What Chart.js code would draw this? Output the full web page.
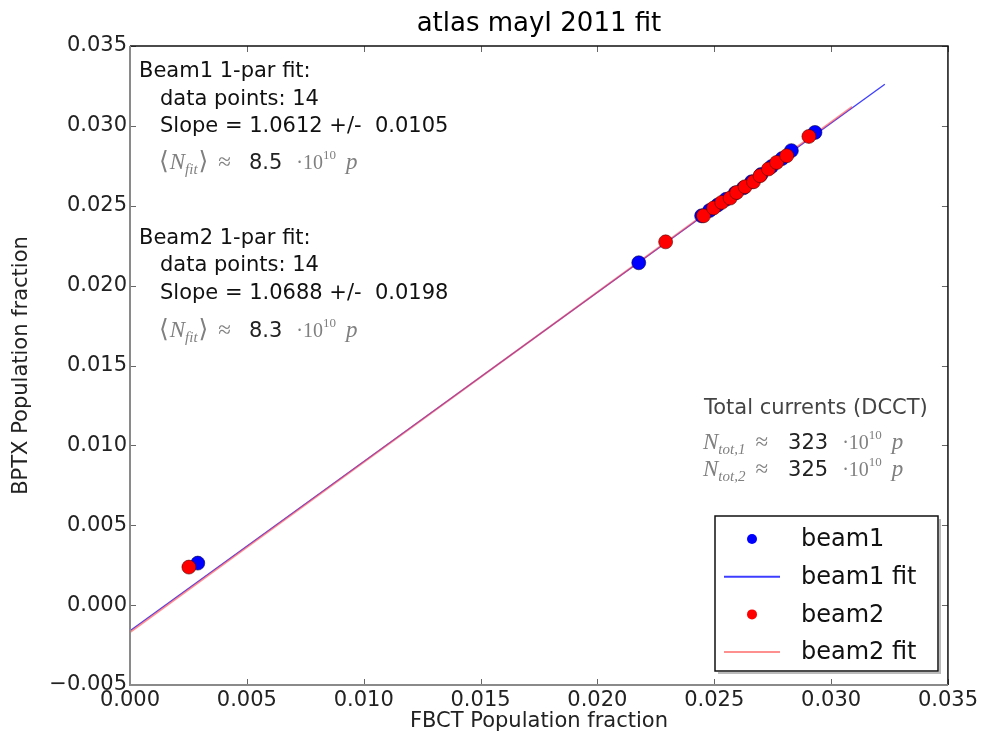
<!DOCTYPE html>
<html lang="en">
<head>
<meta charset="UTF-8" />
<title>atlas mayI 2011 fit</title>
<script src="https://cdn.jsdelivr.net/npm/chart.js@4.4.1/dist/chart.umd.min.js"></script>
<style>
  html, body { margin: 0; padding: 0; background: #fff; }
</style>
</head>
<body>
<canvas id="grafico" width="981" height="734"></canvas>

<script>
// beam1 points (FBCT fraction, BPTX fraction)
const beam1X = [0.0029, 0.02177, 0.02446, 0.02480, 0.02515, 0.02550, 0.02590, 0.02625, 0.02660, 0.02700, 0.02745, 0.02790, 0.02830, 0.02931];
const beam1Y = [0.00263, 0.02143, 0.02437, 0.02470, 0.02505, 0.02540, 0.02580, 0.02612, 0.02650, 0.02695, 0.02745, 0.02795, 0.02845, 0.02959];

// beam2 points
const beam2X = [0.00252, 0.02292, 0.02454, 0.02497, 0.02532, 0.02568, 0.02596, 0.02632, 0.02668, 0.02696, 0.02732, 0.02767, 0.02810, 0.02905];
const beam2Y = [0.00238, 0.02274, 0.02437, 0.02486, 0.02521, 0.02548, 0.02583, 0.02619, 0.02650, 0.02688, 0.02730, 0.02771, 0.02813, 0.02934];

// fit lines, end points
const fit1X = [0.0, 0.0323];
const fit1Y = [-0.0016, 0.0326];
const fit2X = [0.0, 0.0309];
const fit2Y = [-0.0017, 0.0312];

const xTicks = [0.000, 0.005, 0.010, 0.015, 0.020, 0.025, 0.030, 0.035];
const yTicks = [-0.005, 0.000, 0.005, 0.010, 0.015, 0.020, 0.025, 0.030, 0.035];

const pares = (xs, ys) => xs.map((x, i) => ({ x: x, y: ys[i] }));
const fmt = v => (v < -1e-9 ? '\u2212' : '') + Math.abs(v).toFixed(3);

const SANS = "'DejaVu Sans', sans-serif";
const SERIF = "'Liberation Serif', 'DejaVu Serif', serif";
const CINZA = '#808080';

// draws a row of text pieces one after the other
function linha(ctx, x, y, partes) {
  ctx.textBaseline = 'alphabetic';
  ctx.textAlign = 'left';
  for (const p of partes) {
    ctx.font = p.f;
    ctx.fillStyle = p.c;
    ctx.fillText(p.t, x, y + (p.dy || 0));
    x += ctx.measureText(p.t).width + (p.gap || 0);
  }
}

function nFit(ctx, x, y, valor) {
  linha(ctx, x, y, [
    { t: '\u27e8', f: '25px ' + SERIF, c: CINZA, gap: 1 },
    { t: 'N', f: 'italic 23px ' + SERIF, c: CINZA },
    { t: 'fit', f: 'italic 15px ' + SERIF, c: CINZA, dy: 5, gap: 1 },
    { t: '\u27e9', f: '25px ' + SERIF, c: CINZA, gap: 10 },
    { t: '\u2248', f: '23px ' + SERIF, c: CINZA, gap: 18 },
    { t: valor, f: '21px ' + SANS, c: '#222', gap: 14 },
    { t: '\u00b710', f: '20px ' + SERIF, c: CINZA },
    { t: '10', f: '13px ' + SERIF, c: CINZA, dy: -10, gap: 10 },
    { t: 'p', f: 'italic 23px ' + SERIF, c: CINZA }
  ]);
}

function nTot(ctx, x, y, idx, valor) {
  linha(ctx, x, y, [
    { t: 'N', f: 'italic 23px ' + SERIF, c: CINZA },
    { t: 'tot,' + idx, f: 'italic 15px ' + SERIF, c: CINZA, dy: 5, gap: 10 },
    { t: '\u2248', f: '23px ' + SERIF, c: CINZA, gap: 20 },
    { t: valor, f: '21px ' + SANS, c: '#222', gap: 14 },
    { t: '\u00b710', f: '20px ' + SERIF, c: CINZA },
    { t: '10', f: '13px ' + SERIF, c: CINZA, dy: -10, gap: 10 },
    { t: 'p', f: 'italic 23px ' + SERIF, c: CINZA }
  ]);
}

const moldura = {
  id: 'moldura',
  afterDatasetsDraw(chart) {
    const ctx = chart.ctx;
    const a = chart.chartArea;
    const sx = chart.scales.x, sy = chart.scales.y;
    ctx.save();
    // inward tick marks on all four sides
    ctx.strokeStyle = '#666';
    ctx.lineWidth = 1;
    ctx.beginPath();
    sx.ticks.forEach((t, i) => {
      const px = Math.round(sx.getPixelForTick(i)) + 0.5;
      ctx.moveTo(px, a.bottom); ctx.lineTo(px, a.bottom - 6);
      ctx.moveTo(px, a.top); ctx.lineTo(px, a.top + 6);
    });
    sy.ticks.forEach((t, i) => {
      const py = Math.round(sy.getPixelForTick(i)) + 0.5;
      ctx.moveTo(a.left, py); ctx.lineTo(a.left + 6, py);
      ctx.moveTo(a.right, py); ctx.lineTo(a.right - 6, py);
    });
    ctx.stroke();
    // spines
    ctx.lineWidth = 1.5;
    ctx.strokeStyle = '#111';
    ctx.beginPath();
    ctx.moveTo(a.left, a.top); ctx.lineTo(a.right, a.top); ctx.lineTo(a.right, a.bottom);
    ctx.stroke();
    ctx.strokeStyle = '#8a8a8a';
    ctx.lineWidth = 2;
    ctx.beginPath();
    ctx.moveTo(a.left, a.top); ctx.lineTo(a.left, a.bottom); ctx.lineTo(a.right, a.bottom);
    ctx.stroke();
    ctx.restore();
  },
  afterDraw(chart) {
    const ctx = chart.ctx;
    ctx.save();
    // title
    ctx.font = '26px ' + SANS;
    ctx.fillStyle = '#000';
    ctx.textAlign = 'center';
    ctx.textBaseline = 'middle';
    ctx.fillText('atlas mayI 2011 fit', (chart.chartArea.left + chart.chartArea.right) / 2, 24);

    // fit summaries
    const preto = '#111';
    linha(ctx, 139, 77, [{ t: 'Beam1 1-par fit:', f: '21px ' + SANS, c: preto }]);
    linha(ctx, 160, 105, [{ t: 'data points: 14', f: '21px ' + SANS, c: preto }]);
    linha(ctx, 160, 132, [{ t: 'Slope = 1.0612 +/-  0.0105', f: '21px ' + SANS, c: preto }]);
    nFit(ctx, 159, 169, '8.5');
    linha(ctx, 139, 244, [{ t: 'Beam2 1-par fit:', f: '21px ' + SANS, c: preto }]);
    linha(ctx, 160, 271, [{ t: 'data points: 14', f: '21px ' + SANS, c: preto }]);
    linha(ctx, 160, 299, [{ t: 'Slope = 1.0688 +/-  0.0198', f: '21px ' + SANS, c: preto }]);
    nFit(ctx, 159, 337, '8.3');

    // total currents
    linha(ctx, 704, 414, [{ t: 'Total currents (DCCT)', f: '21px ' + SANS, c: '#444' }]);
    nTot(ctx, 703, 449, '1', '323');
    nTot(ctx, 703, 476, '2', '325');

    // legend box
    const L = 715, T = 516, R = 938, B = 671;
    ctx.fillStyle = '#fff';
    ctx.fillRect(L, T, R - L, B - T);
    ctx.strokeStyle = '#bbb';
    ctx.lineWidth = 2;
    ctx.beginPath();
    ctx.moveTo(L + 3, B + 2); ctx.lineTo(R + 2, B + 2); ctx.lineTo(R + 2, T + 3);
    ctx.stroke();
    ctx.strokeStyle = '#111';
    ctx.lineWidth = 1.5;
    ctx.strokeRect(L, T, R - L, B - T);

    const ds = chart.data.datasets;
    const entradas = [ds[1], ds[3], ds[0], ds[2]];
    entradas.forEach((d, i) => {
      const cy = 539 + i * 37.7;
      if (d.showLine) {
        ctx.strokeStyle = d.borderColor;
        ctx.lineWidth = 2;
        ctx.beginPath();
        ctx.moveTo(724, cy); ctx.lineTo(780, cy);
        ctx.stroke();
      } else {
        ctx.fillStyle = d.backgroundColor;
        ctx.beginPath();
        ctx.arc(752, cy, 5, 0, Math.PI * 2);
        ctx.fill();
      }
      ctx.font = '24px ' + SANS;
      ctx.fillStyle = '#111';
      ctx.textAlign = 'left';
      ctx.textBaseline = 'middle';
      ctx.fillText(d.label, 801, cy + 1);
    });
    ctx.restore();
  }
};

const config = {
  type: 'scatter',
  data: {
    datasets: [
      {
        label: 'beam2',
        data: pares(beam2X, beam2Y),
        backgroundColor: '#ff0000',
        borderColor: 'rgba(70,0,0,0.7)',
        borderWidth: 0.8,
        pointRadius: 7,
        order: 0
      },
      {
        label: 'beam1',
        data: pares(beam1X, beam1Y),
        backgroundColor: '#0000ff',
        borderColor: 'rgba(0,0,70,0.7)',
        borderWidth: 0.8,
        pointRadius: 7,
        order: 1
      },
      {
        label: 'beam2 fit',
        data: pares(fit2X, fit2Y),
        showLine: true,
        borderColor: 'rgba(255,70,70,0.6)',
        borderWidth: 2,
        pointRadius: 0,
        order: 2
      },
      {
        label: 'beam1 fit',
        data: pares(fit1X, fit1Y),
        showLine: true,
        borderColor: 'rgba(40,40,255,0.9)',
        borderWidth: 1.3,
        pointRadius: 0,
        order: 3
      }
    ]
  },
  options: {
    responsive: false,
    animation: false,
    devicePixelRatio: 1,
    layout: { padding: { top: 46, right: 30, left: 0, bottom: 0 } },
    plugins: {
      legend: { display: false },
      tooltip: { enabled: false },
      title: { display: false }
    },
    scales: {
      x: {
        type: 'linear',
        min: -0.0000001,
        max: 0.0350001,
        afterBuildTicks: s => { s.ticks = xTicks.map(v => ({ value: v })); },
        afterFit: s => { s.height = 49; },
        grid: { display: false, drawTicks: false },
        border: { display: false },
        ticks: {
          padding: 3,
          autoSkip: false,
          maxRotation: 0,
          color: '#222',
          font: { family: SANS, size: 21 },
          callback: v => fmt(v)
        },
        title: {
          display: true,
          text: 'FBCT Population fraction',
          color: '#222',
          font: { family: SANS, size: 21 },
          padding: { top: 0, bottom: 0 }
        }
      },
      y: {
        type: 'linear',
        min: -0.0050001,
        max: 0.0350001,
        afterBuildTicks: s => { s.ticks = yTicks.map(v => ({ value: v })); },
        afterFit: s => { s.width = 130; },
        grid: { display: false, drawTicks: false },
        border: { display: false },
        ticks: {
          padding: 3,
          autoSkip: false,
          color: '#222',
          font: { family: SANS, size: 21 },
          callback: v => fmt(v)
        },
        title: {
          display: true,
          text: 'BPTX Population fraction',
          color: '#222',
          font: { family: SANS, size: 21 },
          padding: { top: 9, bottom: 0 }
        }
      }
    }
  },
  plugins: [moldura]
};

const grafico = new Chart(document.getElementById('grafico'), config);
</script>
</body>
</html>
